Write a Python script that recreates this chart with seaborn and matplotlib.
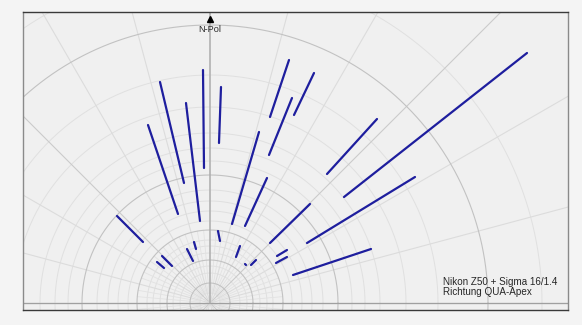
import numpy as np
import pandas as pd
import matplotlib
matplotlib.use("Agg")
import matplotlib.pyplot as plt
import seaborn as sns

# Displacement vectors (start -> end), plotted relative to the pole-centred grid
x_start = [-50, -62, -24, -7, 11, 79, 104, 82, 49, 57, 167, 317, 205, 100, 161,
           -93, -48, -53, -23, -16, 8, 30, 46, 35, 77, 77]
y_start = [221, 178, 200, 233, 216, 243, 230, 205, 171, 125, 184, 250, 126, 99, 54,
           87, 47, 41, 54, 61, 72, 57, 43, 39, 53, 46]
x_end = [-26, -32, -10, -6, 9, 60, 84, 59, 22, 35, 117, 134, 97, 60, 83,
         -67, -38, -46, -17, -14, 10, 26, 41, 36, 67, 66]
y_end = [120, 89, 82, 135, 160, 186, 188, 148, 79, 77, 129, 106, 60, 60, 28,
         61, 37, 35, 42, 54, 62, 46, 38, 38, 47, 40]

# Grid circles (major / minor) and radial spokes
major_radii = [20, 43, 73, 128, 278]
minor_radii = [10, 30, 37, 50, 57, 63, 82, 92, 102, 113, 142, 155, 170, 196, 228, 332]
spoke_angles = list(range(15, 180, 15))
fine_spoke_angles = [a for a in range(5, 180, 5) if a % 15]

title_pole = "N-Pol"
caption = ["Nikon Z50 + Sigma 16/1.4", "Richtung QUA-Apex"]

sns.set_theme(style="white")
plt.rcParams['font.family'] = ['Liberation Sans', 'DejaVu Sans']

fig = plt.figure(figsize=(5.82, 3.25), dpi=100, facecolor="#f4f4f4")
ax = fig.add_axes([23 / 582, 15 / 325, 545 / 582, 298 / 325])
ax.set_facecolor("#f0f0f0")
ax.set_xlim(-187, 358)
ax.set_ylim(-7, 291)
ax.set_aspect("equal")
ax.set_xticks([])
ax.set_yticks([])
for side in ["top", "bottom"]:
    ax.spines[side].set_color("#3a3a3a")
    ax.spines[side].set_linewidth(1.0)
for side in ["left", "right"]:
    ax.spines[side].set_color("#8a8a8a")
    ax.spines[side].set_linewidth(1.0)

t = np.linspace(0, 2 * np.pi, 721)
for r in minor_radii:
    ax.plot(r * np.cos(t), r * np.sin(t), color="#e0e0e0", lw=0.7, zorder=1)
for r in major_radii:
    ax.plot(r * np.cos(t), r * np.sin(t), color="#c2c2c2", lw=0.8, zorder=1.2)

R = 700
for a in fine_spoke_angles:
    th = np.deg2rad(90 - a)
    ax.plot([10 * np.cos(th), 73 * np.cos(th)], [10 * np.sin(th), 73 * np.sin(th)],
            color="#e2e2e2", lw=0.6, zorder=1)
    th2 = np.deg2rad(90 + a)
    ax.plot([10 * np.cos(th2), 73 * np.cos(th2)], [10 * np.sin(th2), 73 * np.sin(th2)],
            color="#e2e2e2", lw=0.6, zorder=1)
for a in spoke_angles:
    col = "#cbcbcb" if a % 45 == 0 else "#dcdcdc"
    for th in (np.deg2rad(90 - a), np.deg2rad(90 + a)):
        ax.plot([0, R * np.cos(th)], [0, R * np.sin(th)], color=col, lw=0.8, zorder=1)

ax.axhline(0, color="#a0a0a0", lw=0.9, zorder=1.5)
ax.plot([0, 0], [0, 291], color="#acacac", lw=1.1, zorder=1.5)

# Vectors as individual line units
n = len(x_start)
seg = pd.DataFrame({
    "seg": np.repeat(np.arange(n), 2),
    "x": np.ravel(np.column_stack([x_start, x_end])),
    "y": np.ravel(np.column_stack([y_start, y_end])),
})
sns.lineplot(data=seg, x="x", y="y", units="seg", estimator=None, sort=False,
             color="#1e1e9e", lw=1.6, ax=ax, zorder=3, solid_capstyle="round")
ax.set_xlabel("")
ax.set_ylabel("")

ax.plot([0], [284], marker="^", color="black", markersize=4.5, zorder=4)
ax.text(0, 273, title_pole, ha="center", va="center", fontsize=6.6, color="#2a2a2a", zorder=4)
ax.text(233, 21, caption[0], ha="left", va="center", fontsize=7.1, color="#262626", zorder=4)
ax.text(233, 11, caption[1], ha="left", va="center", fontsize=7.1, color="#262626", zorder=4)

fig.savefig("out.png", dpi=100, facecolor=fig.get_facecolor())
